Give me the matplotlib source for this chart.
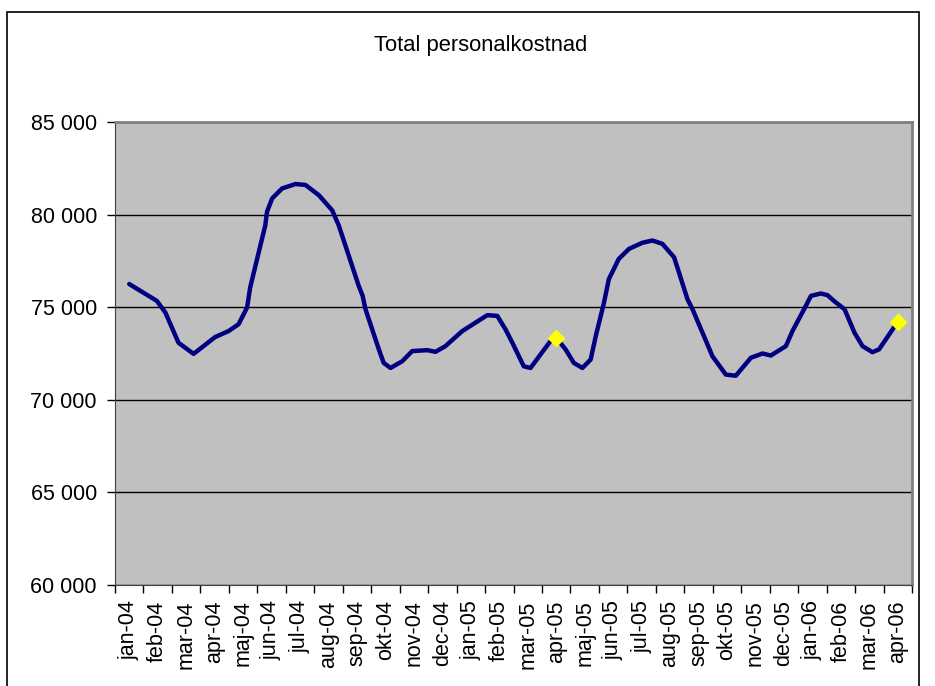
import numpy as np
import matplotlib.pyplot as plt
from matplotlib.patches import Rectangle
from matplotlib.ticker import FuncFormatter

plt.rcParams['font.family'] = 'Liberation Sans'

# month categories on the x axis
months = ['jan-04', 'feb-04', 'mar-04', 'apr-04', 'maj-04', 'jun-04', 'jul-04',
          'aug-04', 'sep-04', 'okt-04', 'nov-04', 'dec-04', 'jan-05', 'feb-05',
          'mar-05', 'apr-05', 'maj-05', 'jun-05', 'jul-05', 'aug-05', 'sep-05',
          'okt-05', 'nov-05', 'dec-05', 'jan-06', 'feb-06', 'mar-06', 'apr-06']

# time in months since jan-04, and cost
month_pos = [0.00, 0.97, 1.27, 1.73, 2.26, 3.02, 3.49, 3.84, 4.14, 4.25,
             4.55, 4.78, 4.84, 5.02, 5.37, 5.84, 6.19, 6.66, 7.13, 7.36,
             7.71, 8.06, 8.20, 8.30, 8.77, 8.94, 9.18, 9.59, 9.94, 10.47,
             10.76, 11.11, 11.70, 12.17, 12.58, 12.93, 13.22, 13.46, 13.86, 14.10,
             14.45, 14.80, 15.00, 15.33, 15.62, 15.92, 16.21, 16.39, 16.68, 16.85,
             17.20, 17.56, 18.03, 18.38, 18.73, 19.14, 19.31, 19.61, 19.79, 20.19,
             20.49, 20.96, 21.31, 21.84, 22.25, 22.54, 23.07, 23.30, 23.77, 23.95,
             24.30, 24.53, 24.78, 25.13, 25.48, 25.76, 26.11, 26.34, 26.58, 26.86,
             27.00]
cost = [76250, 75340, 74710, 73080, 72480, 73390, 73710, 74080, 74980, 76070,
        77970, 79420, 80150, 80870, 81410, 81650, 81600, 81050, 80230, 79420,
        77790, 76160, 75610, 74890, 72720, 71990, 71720, 72080, 72630, 72680,
        72590, 72900, 73710, 74170, 74570, 74530, 73800, 73080, 71810, 71720,
        72450, 73170, 73350, 72720, 71990, 71720, 72170, 73440, 75250, 76520,
        77610, 78150, 78480, 78600, 78420, 77700, 76890, 75440, 74890, 73440,
        72350, 71360, 71300, 72270, 72500, 72390, 72900, 73710, 75070, 75610,
        75740, 75650, 75310, 74890, 73620, 72900, 72570, 72720, 73260, 73900,
        74200]

# highlighted points: apr-05 and apr-06
marked_months = [15.0, 27.0]

month_pos = np.array(month_pos)
cost = np.array(cost)
mask = np.isin(month_pos, marked_months)

fig = plt.figure(figsize=(9.35, 6.86), dpi=100)
ax = fig.add_axes([0.123, 0.1472, 0.8524, 0.675])
ax.set_facecolor('#C0C0C0')

ax.plot(month_pos, cost, color='#000080', lw=3.2, solid_joinstyle='round',
        solid_capstyle='round', zorder=3)
ax.plot(month_pos[mask], cost[mask], linestyle='none', marker='D', ms=8.5,
        color='#FFFF00', mec='#FFFF00', zorder=4)

ax.set_ylim(60000, 85000)
ax.set_yticks(np.arange(60000, 85001, 5000))
ax.yaxis.set_major_formatter(FuncFormatter(lambda v, p: f'{int(v):,}'.replace(',', ' ')))
ax.yaxis.grid(True, color='black', lw=1)
ax.set_axisbelow(True)

ax.set_xlim(-0.5, len(months) - 0.5)
ax.set_xticks(np.arange(-0.5, len(months), 1.0))
ax.set_xticklabels([])
ax.set_xticks(np.arange(len(months)), minor=True)
ax.set_xticklabels(months, minor=True, rotation=90, va='top', ha='center')

ax.tick_params(axis='both', which='major', length=6, width=1, color='black',
               labelsize=15.5)
ax.tick_params(axis='y', pad=7)
ax.tick_params(axis='x', which='minor', length=0, pad=11, labelsize=15.5)

ax.spines['top'].set_color('#808080')
ax.spines['right'].set_color('#808080')
ax.spines['top'].set_linewidth(2)
ax.spines['right'].set_linewidth(2)
ax.spines['left'].set_color('#404040')
ax.spines['bottom'].set_color('#404040')

fig.text(0.514, 0.934, 'Total personalkostnad', ha='center', va='center', fontsize=15.8)

# chart area border
fig.patches.append(Rectangle((7 / 935, -0.02), 912 / 935, 1 - 12 / 686 + 0.02,
                             transform=fig.transFigure, fill=False,
                             edgecolor='black', lw=1.2))

fig.savefig('out.png', dpi=100)
